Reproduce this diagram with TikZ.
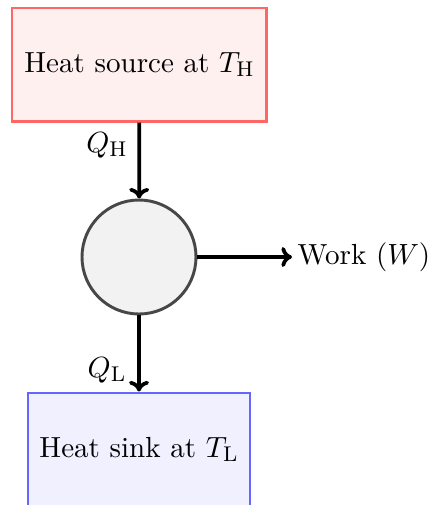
\documentclass[tikz,border=0pt]{standalone}
\usetikzlibrary{arrows.meta}
\begin{document}
\begin{tikzpicture}[x=0.375pt,y=-0.375pt,
  font=\fontsize{10.9}{13}\selectfont,
  reservoir/.style={draw, line width=1.1pt, minimum width=#1, minimum height=42.4pt, inner sep=0pt},
  flow/.style={line width=1.4pt, -{To[length=4pt,width=7.5pt]}},
  lbl/.style={inner sep=1pt}]
\useasboundingbox (0,0) rectangle (427,505);
\node[reservoir=95.6pt, draw=red!60, fill=red!6] (hot) at (139.5,64.5) {Heat source at $T_{\mathrm{H}}$};
\node[circle, draw=black!72, fill=black!5, line width=1.1pt, minimum size=42.75pt, inner sep=0pt] (eng) at (139,257) {};
\node[reservoir=83.25pt, draw=blue!60, fill=blue!6] (cold) at (139,449.5) {Heat sink at $T_{\mathrm{L}}$};
\node[anchor=west, inner sep=1.9pt] (work) at (292,257) {Work ($W$)};
\draw[flow] (hot) -- (eng);
\draw[flow] (eng) -- (work);
\draw[flow] (eng) -- (cold);
\node[lbl] (qh) at (107,145) {$Q_{\mathrm{H}}$};
\node[lbl] (ql) at (107,370) {$Q_{\mathrm{L}}$};
\end{tikzpicture}
\end{document}
